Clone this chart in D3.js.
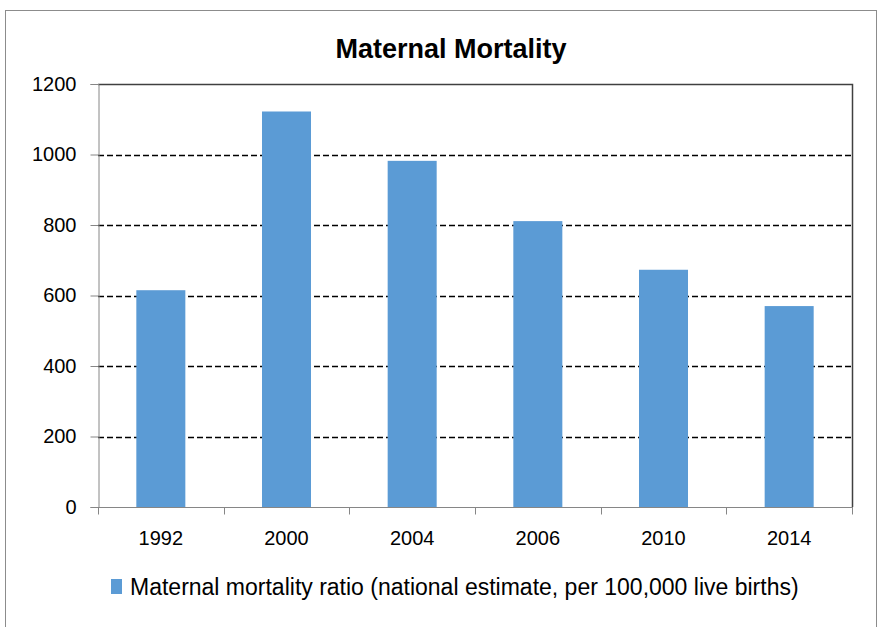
<!DOCTYPE html>
<html>
<head>
<meta charset="utf-8">
<script src="https://cdn.jsdelivr.net/npm/d3@7"></script>
<style>
  body { margin: 0; background: #fff; }
  text { font-family: "Liberation Sans", Arial, sans-serif; fill: #000; }
</style>
</head>
<body>
<svg width="880" height="627"></svg>
<script>
// data
var years = ["1992", "2000", "2004", "2006", "2010", "2014"];
var mortality = [615, 1122, 982, 811, 673, 570];
var yTicks = [0, 200, 400, 600, 800, 1000, 1200];
var chartTitle = "Maternal Mortality";
var seriesName = "Maternal mortality ratio (national estimate, per 100,000 live births)";

var barColor = "#5b9bd5",
    axisColor = "#868686";

var svg = d3.select("svg");

// outer chart frame (bottom edge runs off the picture)
svg.append("rect")
    .attr("x", 5.5).attr("y", 10.5)
    .attr("width", 871).attr("height", 640)
    .attr("fill", "#fff")
    .attr("stroke", "#8c8c8c");

var plotL = 98, plotR = 852, plotT = 84, plotB = 507;

var x = d3.scaleBand()
    .domain(years)
    .range([plotL, plotR])
    .paddingInner(0.61)
    .paddingOuter(0.305);

var y = d3.scaleLinear()
    .domain([0, 1200])
    .range([plotB, plotT]);

// dashed gridlines
svg.append("g").attr("class", "grid")
    .selectAll("line")
    .data(yTicks.filter(d => d > 0 && d < 1200))
    .enter().append("line")
        .attr("x1", plotL).attr("x2", plotR)
        .attr("y1", d => Math.round(y(d)) + 0.5).attr("y2", d => Math.round(y(d)) + 0.5)
        .attr("stroke", "#000")
        .attr("stroke-width", 1.4)
        .attr("stroke-dasharray", "6,3");

// bars
svg.append("g").attr("class", "bars")
    .selectAll("rect")
    .data(years)
    .enter().append("rect")
        .attr("x", d => x(d))
        .attr("width", x.bandwidth())
        .attr("y", (d, i) => y(mortality[i]))
        .attr("height", (d, i) => y(0) - y(mortality[i]))
        .attr("fill", barColor);

// plot area top / right border
svg.append("path")
    .attr("d", "M" + plotL + "," + (plotT + 0.5) + "H" + (plotR + 0.5) + "V" + plotB)
    .attr("fill", "none")
    .attr("stroke", "#404040")
    .attr("stroke-width", 1.5);

// y axis
var yAxis = svg.append("g")
    .attr("transform", "translate(" + (plotL + 0.5) + ",0)")
    .call(d3.axisLeft(y).tickValues(yTicks).tickFormat(d3.format("d")).tickSize(8).tickPadding(14));
yAxis.select(".domain").attr("stroke", axisColor);
yAxis.selectAll(".tick line").attr("stroke", axisColor);
yAxis.selectAll(".tick text")
    .attr("font-size", 20)
    .attr("font-family", "Liberation Sans, Arial, sans-serif")
    .attr("fill", "#000");

// x axis: ticks sit on the category boundaries
var boundaries = d3.range(years.length + 1).map(i => plotL + i * x.step());
var xAxis = svg.append("g")
    .attr("transform", "translate(0," + (plotB + 0.5) + ")");
xAxis.append("line")
    .attr("x1", plotL).attr("x2", plotR + 1)
    .attr("stroke", axisColor);
xAxis.selectAll(".tk")
    .data(boundaries)
    .enter().append("line")
        .attr("class", "tk")
        .attr("x1", d => Math.round(d) + 0.5).attr("x2", d => Math.round(d) + 0.5)
        .attr("y1", 0).attr("y2", 7)
        .attr("stroke", axisColor);
xAxis.selectAll("text")
    .data(years)
    .enter().append("text")
        .attr("x", d => x(d) + x.bandwidth() / 2)
        .attr("y", 37)
        .attr("text-anchor", "middle")
        .attr("font-size", 20)
        .text(d => d);

// title
svg.append("text")
    .attr("x", 451)
    .attr("y", 58)
    .attr("text-anchor", "middle")
    .attr("font-size", 27)
    .attr("font-weight", "bold")
    .text(chartTitle);

// legend
var legend = svg.append("g").attr("transform", "translate(111,587)");
legend.append("rect")
    .attr("x", 0).attr("y", -8)
    .attr("width", 11).attr("height", 15)
    .attr("fill", barColor);
legend.append("text")
    .attr("x", 19).attr("y", 8)
    .attr("font-size", 23)
    .text(seriesName);
</script>
</body>
</html>
